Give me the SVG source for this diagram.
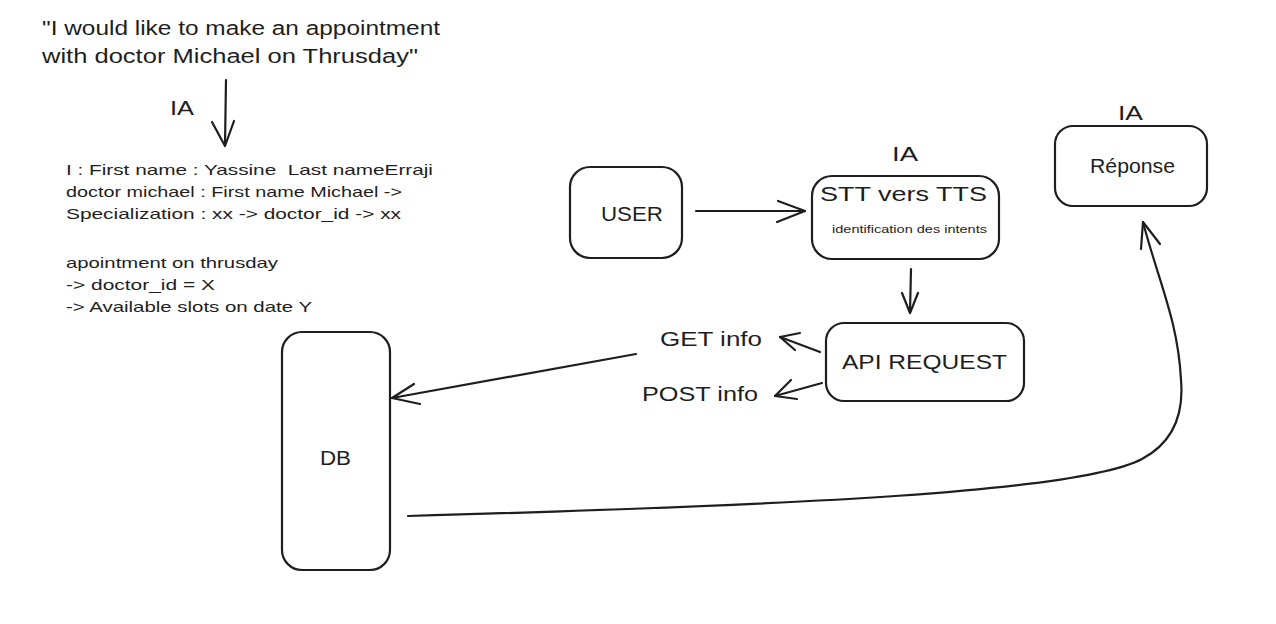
<svg xmlns="http://www.w3.org/2000/svg" width="1276" height="624" viewBox="0 0 1276 624">
<style>
  .box { fill: #ffffff; stroke: #1e1e1e; stroke-width: 2.2; }
  .ln { fill: none; stroke: #1e1e1e; stroke-width: 2.2; stroke-linecap: round; stroke-linejoin: round; }
  text { font-family: "Liberation Sans", "DejaVu Sans", sans-serif; fill: #1e1e1e; }
  .t20 { font-size: 20px; }
  .t15 { font-size: 15px; }
  .t11 { font-size: 11px; }
  .mid { text-anchor: middle; }
</style>
<rect width="1276" height="624" fill="#ffffff"/>

<g id="quote">
  <text class="t20" x="42" y="35" textLength="398" lengthAdjust="spacingAndGlyphs">"I would like to make an appointment</text>
  <text class="t20" x="42" y="63" textLength="376" lengthAdjust="spacingAndGlyphs">with doctor Michael on Thrusday"</text>
</g>

<g id="label-ia-1">
  <text class="t20" x="170" y="115" textLength="24" lengthAdjust="spacingAndGlyphs">IA</text>
</g>

<g id="notes">
  <text class="t15" x="66" y="175" textLength="367" lengthAdjust="spacingAndGlyphs">I : First name : Yassine&#160; Last nameErraji</text>
  <text class="t15" x="66" y="197" textLength="336" lengthAdjust="spacingAndGlyphs">doctor michael : First name Michael -&gt;</text>
  <text class="t15" x="66" y="219" textLength="335" lengthAdjust="spacingAndGlyphs">Specialization : xx -&gt; doctor_id -&gt; xx</text>
  <text class="t15" x="66" y="268" textLength="212" lengthAdjust="spacingAndGlyphs">apointment on thrusday</text>
  <text class="t15" x="66" y="290" textLength="149" lengthAdjust="spacingAndGlyphs">-&gt; doctor_id = X</text>
  <text class="t15" x="66" y="312" textLength="246" lengthAdjust="spacingAndGlyphs">-&gt; Available slots on date Y</text>
</g>

<g id="user">
  <rect class="box" x="570" y="167" width="112" height="91" rx="20"/>
  <text class="t20 mid" x="632" y="221" textLength="62" lengthAdjust="spacingAndGlyphs">USER</text>
</g>

<g id="stt">
  <text class="t20" x="892" y="161" textLength="26" lengthAdjust="spacingAndGlyphs">IA</text>
  <rect class="box" x="812" y="176" width="187" height="83" rx="20"/>
  <text class="t20" x="820" y="201" textLength="167" lengthAdjust="spacingAndGlyphs">STT vers TTS</text>
  <text class="t11" x="832" y="233" textLength="155" lengthAdjust="spacingAndGlyphs">identification des intents</text>
</g>

<g id="api">
  <rect class="box" x="826" y="323" width="198" height="78" rx="18"/>
  <text class="t20" x="842" y="369" textLength="165" lengthAdjust="spacingAndGlyphs">API REQUEST</text>
</g>

<g id="get-info">
  <text class="t20" x="660" y="346" textLength="102" lengthAdjust="spacingAndGlyphs">GET info</text>
</g>
<g id="post-info">
  <text class="t20" x="642" y="401" textLength="116" lengthAdjust="spacingAndGlyphs">POST info</text>
</g>

<g id="db">
  <rect class="box" x="282" y="332" width="108" height="238" rx="20"/>
  <text class="t20" x="320" y="465" textLength="31" lengthAdjust="spacingAndGlyphs">DB</text>
</g>

<g id="reponse">
  <text class="t20" x="1118" y="120" textLength="25" lengthAdjust="spacingAndGlyphs">IA</text>
  <rect class="box" x="1055" y="126" width="152" height="80" rx="18"/>
  <text class="t20" x="1090" y="173" textLength="85" lengthAdjust="spacingAndGlyphs">Réponse</text>
</g>

<g id="connectors">
  <!-- quote to notes -->
  <path class="ln" d="M226,80 L225,145"/>
  <path class="ln" d="M212,122 L225,146 L234,121"/>
  <!-- USER to STT -->
  <path class="ln" d="M696,211 L805,211"/>
  <path class="ln" d="M778,201 L805,211 L777,222"/>
  <!-- STT to API -->
  <path class="ln" d="M911,269 L910,312"/>
  <path class="ln" d="M902,293 L910,313 L918,293"/>
  <!-- API to GET info -->
  <path class="ln" d="M820,352 L780,337"/>
  <path class="ln" d="M800,333 L780,337 L795,350"/>
  <!-- API to POST info -->
  <path class="ln" d="M822,383 L775,396"/>
  <path class="ln" d="M791,380 L775,396 L797,399"/>
  <!-- GET info to DB -->
  <path class="ln" d="M636,354 L392,398"/>
  <path class="ln" d="M414,384 L392,398 L420,404"/>
  <!-- DB to Réponse -->
  <path class="ln" d="M408,516 C800,505 1080,492 1142,459 C1172,443 1184,415 1181,380 C1178,320 1158,280 1143,222"/>
  <path class="ln" d="M1141,249 L1143,222 L1160,244"/>
</g>
</svg>
